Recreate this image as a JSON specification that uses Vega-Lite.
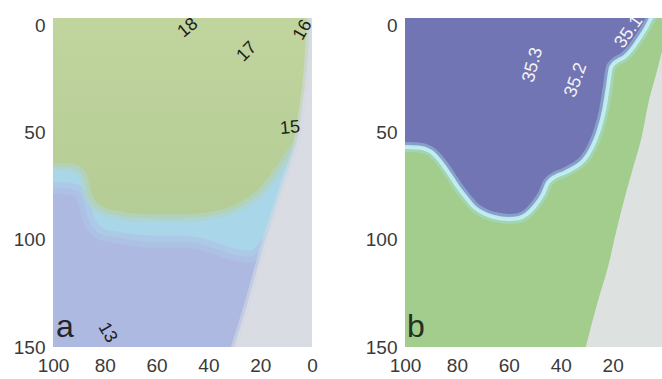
{
  "$schema": "https://vega.github.io/schema/vega-lite/v6.json",
  "padding": {"left": 13, "top": 12, "right": 0, "bottom": 0},
  "spacing": 47,
  "config": {
    "font": "Liberation Sans",
    "view": {"stroke": null},
    "axis": {"domain": false, "ticks": false, "grid": false, "labelFont": "Liberation Sans", "labelFontSize": 19, "labelColor": "#3a3a3a"},
    "axisX": {"labelPadding": 9, "labelFlush": false, "labelOverlap": false},
    "axisY": {"labelPadding": 8, "labelOverlap": false}
  },
  "datasets": {
    "bA": [
      {"dist": 103, "g": 66, "c": 76}, {"dist": 96, "g": 66, "c": 76}, {"dist": 91, "g": 67, "c": 77},
      {"dist": 88.5, "g": 70, "c": 81}, {"dist": 86.5, "g": 79, "c": 90}, {"dist": 84, "g": 84, "c": 95},
      {"dist": 80, "g": 87, "c": 98}, {"dist": 75, "g": 88.5, "c": 99}, {"dist": 70, "g": 89.5, "c": 100},
      {"dist": 60, "g": 90, "c": 101}, {"dist": 50, "g": 90, "c": 101}, {"dist": 40, "g": 89, "c": 103},
      {"dist": 30, "g": 86, "c": 107}, {"dist": 24, "g": 82, "c": 108}, {"dist": 19, "g": 77, "c": 104},
      {"dist": 15, "g": 71, "c": 96}, {"dist": 11, "g": 64, "c": 86}, {"dist": 7, "g": 57, "c": 76},
      {"dist": 3, "g": 51, "c": 68}, {"dist": -2, "g": 47, "c": 62}
    ],
    "wA": [
      {"depth": -6, "dist": 0.8}, {"depth": 20, "dist": 2}, {"depth": 40, "dist": 4}, {"depth": 55, "dist": 6},
      {"depth": 70, "dist": 10}, {"depth": 85, "dist": 14}, {"depth": 100, "dist": 18}, {"depth": 115, "dist": 21.5},
      {"depth": 130, "dist": 25}, {"depth": 140, "dist": 27.5}, {"depth": 153, "dist": 31}
    ],
    "bB": [
      {"dist": 102, "depth": 56.8}, {"dist": 95, "depth": 57}, {"dist": 90, "depth": 59}, {"dist": 86, "depth": 64},
      {"dist": 82, "depth": 71}, {"dist": 79.6, "depth": 75.4}, {"dist": 76, "depth": 81}, {"dist": 73.4, "depth": 84.7},
      {"dist": 69, "depth": 88}, {"dist": 65.7, "depth": 89.4}, {"dist": 60, "depth": 90.3}, {"dist": 56.5, "depth": 90},
      {"dist": 53, "depth": 88}, {"dist": 50.3, "depth": 84.7}, {"dist": 47, "depth": 79}, {"dist": 45, "depth": 73.5},
      {"dist": 42, "depth": 70.5}, {"dist": 38.8, "depth": 68.9}, {"dist": 35, "depth": 66.5}, {"dist": 31, "depth": 62.8},
      {"dist": 28, "depth": 57}, {"dist": 25.7, "depth": 50.3}, {"dist": 23.3, "depth": 39.5}, {"dist": 22, "depth": 30},
      {"dist": 20.6, "depth": 19.5}, {"dist": 18, "depth": 16.5}, {"dist": 15.6, "depth": 14.9}, {"dist": 12.5, "depth": 11},
      {"dist": 10.2, "depth": 7}, {"dist": 7.5, "depth": 2}, {"dist": 5.2, "depth": -3.3}, {"dist": 3, "depth": -8}
    ],
    "wB": [
      {"depth": 5, "dist": -1}, {"depth": 10, "dist": 0.5}, {"depth": 19.5, "dist": 2.5}, {"depth": 35, "dist": 6},
      {"depth": 53.5, "dist": 9.1}, {"depth": 68, "dist": 12.5}, {"depth": 81.5, "dist": 15.6}, {"depth": 97, "dist": 18.8},
      {"depth": 112.7, "dist": 21.8}, {"depth": 130, "dist": 26}, {"depth": 153, "dist": 31}
    ],
    "labA": [
      {"dist": 47.9, "depth": 1.4, "label": "18"}, {"dist": 25.1, "depth": 12.5, "label": "17"},
      {"dist": 3.5, "depth": 2.3, "label": "16"}, {"dist": 8.5, "depth": 48, "label": "15"},
      {"dist": 79, "depth": 143.4, "label": "13"}, {"dist": 95.4, "depth": 145.5, "label": "a"}
    ],
    "labB": [
      {"dist": 50.7, "depth": 18.6, "label": "35.3"}, {"dist": 34.1, "depth": 25.6, "label": "35.2"},
      {"dist": 13.7, "depth": 3.2, "label": "35.1"}, {"dist": 95.8, "depth": 145.5, "label": "b"}
    ]
  },
  "hconcat": [
    {
      "width": 259,
      "height": 329,
      "view": {"fill": "#aeb9e2", "stroke": null},
      "layer": [
        {
          "data": {"name": "bA"},
          "mark": {"type": "area", "clip": true, "interpolate": "monotone", "color": "#aad6e9"},
          "encoding": {
            "x": {"field": "dist", "type": "quantitative", "scale": {"domain": [100, 0], "nice": false, "zero": false}, "axis": {"values": [100, 80, 60, 40, 20, 0]}, "title": null},
            "y": {"field": "g", "type": "quantitative", "scale": {"domain": [-3.3, 150], "reverse": true, "nice": false, "zero": false}, "axis": {"values": [0, 50, 100, 150]}, "title": null},
            "y2": {"field": "c"}
          }
        },
        {
          "data": {"name": "bA"},
          "mark": {"type": "line", "clip": true, "interpolate": "monotone", "color": "#adc4e5", "strokeWidth": 12, "opacity": 0.7},
          "encoding": {
            "x": {"field": "dist", "type": "quantitative", "scale": {"domain": [100, 0], "nice": false, "zero": false}, "title": null},
            "y": {"field": "c", "type": "quantitative", "scale": {"domain": [-3.3, 150], "reverse": true, "nice": false, "zero": false}, "title": null}
          }
        },
        {
          "data": {"name": "bA"},
          "mark": {"type": "area", "clip": true, "interpolate": "monotone",
            "color": {"gradient": "linear", "x1": 0, "y1": 0, "x2": 0, "y2": 1, "stops": [{"offset": 0, "color": "#c2d59f"}, {"offset": 1, "color": "#b4cc95"}]}},
          "encoding": {
            "x": {"field": "dist", "type": "quantitative", "scale": {"domain": [100, 0], "nice": false, "zero": false}, "title": null},
            "y": {"field": "g", "type": "quantitative", "scale": {"domain": [-3.3, 150], "reverse": true, "nice": false, "zero": false}, "title": null},
            "y2": {"datum": -10}
          }
        },
        {
          "data": {"name": "bA"},
          "mark": {"type": "line", "clip": true, "interpolate": "monotone", "color": "#b0d4c8", "strokeWidth": 8, "opacity": 0.7},
          "encoding": {
            "x": {"field": "dist", "type": "quantitative", "scale": {"domain": [100, 0], "nice": false, "zero": false}, "title": null},
            "y": {"field": "g", "type": "quantitative", "scale": {"domain": [-3.3, 150], "reverse": true, "nice": false, "zero": false}, "title": null}
          }
        },
        {
          "data": {"name": "wA"},
          "mark": {"type": "area", "orient": "horizontal", "clip": true, "interpolate": "monotone", "color": "#d9dce3"},
          "encoding": {
            "y": {"field": "depth", "type": "quantitative", "scale": {"domain": [-3.3, 150], "reverse": true, "nice": false, "zero": false}, "title": null},
            "x": {"field": "dist", "type": "quantitative", "scale": {"domain": [100, 0], "nice": false, "zero": false}, "title": null},
            "x2": {"datum": -5}
          }
        },
        {
          "data": {"name": "wA"},
          "mark": {"type": "line", "clip": true, "interpolate": "monotone", "color": "#d2d8e2", "strokeWidth": 6, "opacity": 0.6},
          "encoding": {
            "y": {"field": "depth", "type": "quantitative", "scale": {"domain": [-3.3, 150], "reverse": true, "nice": false, "zero": false}, "title": null},
            "x": {"field": "dist", "type": "quantitative", "scale": {"domain": [100, 0], "nice": false, "zero": false}, "title": null}
          }
        },
        {"data": {"name": "labA"}, "transform": [{"filter": "datum.label == '18'"}],
          "mark": {"type": "text", "angle": -40, "fontSize": 18, "color": "#1e1e1e", "align": "center", "baseline": "middle"},
          "encoding": {"x": {"field": "dist", "type": "quantitative", "scale": {"domain": [100, 0], "nice": false, "zero": false}, "title": null},
            "y": {"field": "depth", "type": "quantitative", "scale": {"domain": [-3.3, 150], "reverse": true, "nice": false, "zero": false}, "title": null},
            "text": {"field": "label"}}},
        {"data": {"name": "labA"}, "transform": [{"filter": "datum.label == '17'"}],
          "mark": {"type": "text", "angle": -45, "fontSize": 18, "color": "#1e1e1e", "align": "center", "baseline": "middle"},
          "encoding": {"x": {"field": "dist", "type": "quantitative", "scale": {"domain": [100, 0], "nice": false, "zero": false}, "title": null},
            "y": {"field": "depth", "type": "quantitative", "scale": {"domain": [-3.3, 150], "reverse": true, "nice": false, "zero": false}, "title": null},
            "text": {"field": "label"}}},
        {"data": {"name": "labA"}, "transform": [{"filter": "datum.label == '16'"}],
          "mark": {"type": "text", "angle": -60, "fontSize": 18, "color": "#1e1e1e", "align": "center", "baseline": "middle"},
          "encoding": {"x": {"field": "dist", "type": "quantitative", "scale": {"domain": [100, 0], "nice": false, "zero": false}, "title": null},
            "y": {"field": "depth", "type": "quantitative", "scale": {"domain": [-3.3, 150], "reverse": true, "nice": false, "zero": false}, "title": null},
            "text": {"field": "label"}}},
        {"data": {"name": "labA"}, "transform": [{"filter": "datum.label == '15'"}],
          "mark": {"type": "text", "angle": -5, "fontSize": 18, "color": "#1e1e1e", "align": "center", "baseline": "middle"},
          "encoding": {"x": {"field": "dist", "type": "quantitative", "scale": {"domain": [100, 0], "nice": false, "zero": false}, "title": null},
            "y": {"field": "depth", "type": "quantitative", "scale": {"domain": [-3.3, 150], "reverse": true, "nice": false, "zero": false}, "title": null},
            "text": {"field": "label"}}},
        {"data": {"name": "labA"}, "transform": [{"filter": "datum.label == '13'"}],
          "mark": {"type": "text", "angle": 60, "fontSize": 18, "color": "#1e1e1e", "align": "center", "baseline": "middle"},
          "encoding": {"x": {"field": "dist", "type": "quantitative", "scale": {"domain": [100, 0], "nice": false, "zero": false}, "title": null},
            "y": {"field": "depth", "type": "quantitative", "scale": {"domain": [-3.3, 150], "reverse": true, "nice": false, "zero": false}, "title": null},
            "text": {"field": "label"}}},
        {"data": {"name": "labA"}, "transform": [{"filter": "datum.label == 'a'"}],
          "mark": {"type": "text", "fontSize": 32, "color": "#262626", "align": "center", "baseline": "alphabetic"},
          "encoding": {"x": {"field": "dist", "type": "quantitative", "scale": {"domain": [100, 0], "nice": false, "zero": false}, "title": null},
            "y": {"field": "depth", "type": "quantitative", "scale": {"domain": [-3.3, 150], "reverse": true, "nice": false, "zero": false}, "title": null},
            "text": {"field": "label"}}}
      ]
    },
    {
      "width": 257,
      "height": 329,
      "view": {"fill": "#a2cd8d", "stroke": null},
      "layer": [
        {
          "data": {"name": "bB"},
          "mark": {"type": "area", "clip": true, "interpolate": "monotone", "color": "#7275b3"},
          "encoding": {
            "x": {"field": "dist", "type": "quantitative", "scale": {"domain": [100, 1], "nice": false, "zero": false}, "axis": {"values": [100, 80, 60, 40, 20]}, "title": null},
            "y": {"field": "depth", "type": "quantitative", "scale": {"domain": [-3.3, 150], "reverse": true, "nice": false, "zero": false}, "axis": {"values": [0, 50, 100, 150]}, "title": null},
            "y2": {"datum": -10}
          }
        },
        {
          "data": {"name": "bB"},
          "mark": {"type": "line", "clip": true, "interpolate": "monotone", "color": "#a6e2ec", "strokeWidth": 10, "opacity": 0.4},
          "encoding": {
            "x": {"field": "dist", "type": "quantitative", "scale": {"domain": [100, 1], "nice": false, "zero": false}, "title": null},
            "y": {"field": "depth", "type": "quantitative", "scale": {"domain": [-3.3, 150], "reverse": true, "nice": false, "zero": false}, "title": null}
          }
        },
        {
          "data": {"name": "bB"},
          "mark": {"type": "line", "clip": true, "interpolate": "monotone", "color": "#c4f1f6", "strokeWidth": 4, "opacity": 0.9},
          "encoding": {
            "x": {"field": "dist", "type": "quantitative", "scale": {"domain": [100, 1], "nice": false, "zero": false}, "title": null},
            "y": {"field": "depth", "type": "quantitative", "scale": {"domain": [-3.3, 150], "reverse": true, "nice": false, "zero": false}, "title": null}
          }
        },
        {
          "data": {"name": "wB"},
          "mark": {"type": "area", "orient": "horizontal", "clip": true, "interpolate": "monotone", "color": "#dde2e1"},
          "encoding": {
            "y": {"field": "depth", "type": "quantitative", "scale": {"domain": [-3.3, 150], "reverse": true, "nice": false, "zero": false}, "title": null},
            "x": {"field": "dist", "type": "quantitative", "scale": {"domain": [100, 1], "nice": false, "zero": false}, "title": null},
            "x2": {"datum": -5}
          }
        },
        {"data": {"name": "labB"}, "transform": [{"filter": "datum.label == '35.3'"}],
          "mark": {"type": "text", "angle": -75, "fontSize": 18, "color": "#f4f4f4", "align": "center", "baseline": "middle"},
          "encoding": {"x": {"field": "dist", "type": "quantitative", "scale": {"domain": [100, 1], "nice": false, "zero": false}, "title": null},
            "y": {"field": "depth", "type": "quantitative", "scale": {"domain": [-3.3, 150], "reverse": true, "nice": false, "zero": false}, "title": null},
            "text": {"field": "label"}}},
        {"data": {"name": "labB"}, "transform": [{"filter": "datum.label == '35.2'"}],
          "mark": {"type": "text", "angle": -70, "fontSize": 18, "color": "#f4f4f4", "align": "center", "baseline": "middle"},
          "encoding": {"x": {"field": "dist", "type": "quantitative", "scale": {"domain": [100, 1], "nice": false, "zero": false}, "title": null},
            "y": {"field": "depth", "type": "quantitative", "scale": {"domain": [-3.3, 150], "reverse": true, "nice": false, "zero": false}, "title": null},
            "text": {"field": "label"}}},
        {"data": {"name": "labB"}, "transform": [{"filter": "datum.label == '35.1'"}],
          "mark": {"type": "text", "angle": -55, "fontSize": 18, "color": "#f4f4f4", "align": "center", "baseline": "middle"},
          "encoding": {"x": {"field": "dist", "type": "quantitative", "scale": {"domain": [100, 1], "nice": false, "zero": false}, "title": null},
            "y": {"field": "depth", "type": "quantitative", "scale": {"domain": [-3.3, 150], "reverse": true, "nice": false, "zero": false}, "title": null},
            "text": {"field": "label"}}},
        {"data": {"name": "labB"}, "transform": [{"filter": "datum.label == 'b'"}],
          "mark": {"type": "text", "fontSize": 32, "color": "#243024", "align": "center", "baseline": "alphabetic"},
          "encoding": {"x": {"field": "dist", "type": "quantitative", "scale": {"domain": [100, 1], "nice": false, "zero": false}, "title": null},
            "y": {"field": "depth", "type": "quantitative", "scale": {"domain": [-3.3, 150], "reverse": true, "nice": false, "zero": false}, "title": null},
            "text": {"field": "label"}}}
      ]
    }
  ]
}
